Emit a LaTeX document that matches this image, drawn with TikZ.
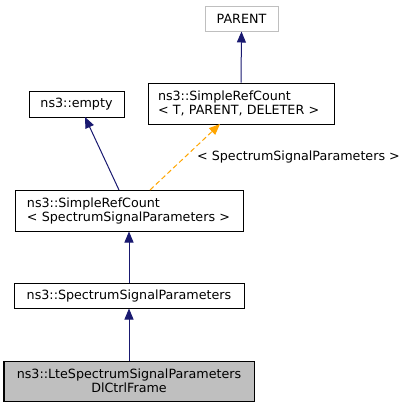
\documentclass[tikz,border=0pt]{standalone}
\usepackage{fontspec}
\setmainfont{DejaVu Sans}
\usetikzlibrary{arrows.meta}
\definecolor{edgeblue}{HTML}{191970}
\definecolor{edgeorange}{HTML}{FFA500}
\definecolor{boxgray}{HTML}{BFBFBF}
\begin{document}
\begin{tikzpicture}[x=1pt,y=-1pt,
  every node/.style={font=\fontsize{12.7}{14}\selectfont},
  cls/.style={draw=black, line width=1pt, inner sep=0pt, fill=white},
  inh/.style={draw=edgeblue, line width=1pt, -{Triangle[length=11pt,width=9pt]}},
  tmpl/.style={draw=edgeorange, line width=1pt, dash pattern=on 5pt off 3pt, -{Triangle[length=11pt,width=9pt]}}]
\useasboundingbox (0,0) rectangle (408,408);
\node[cls, draw=boxgray, minimum width=73pt, minimum height=25pt] (parent) at (241.5,18.5) {PARENT};
\node[cls, minimum width=186pt, minimum height=41pt, text width=166pt, align=left] (srct) at (241,103.5) {ns3::SimpleRefCount\\< T, PARENT, DELETER >};
\node[cls, minimum width=95pt, minimum height=26pt] (empty) at (76.5,104) {ns3::empty};
\node[cls, minimum width=228pt, minimum height=41pt, text width=204pt, align=left] (srcs) at (129,210.5) {ns3::SimpleRefCount\\< SpectrumSignalParameters >};
\node[cls, minimum width=230pt, minimum height=25pt] (ssp) at (129,295.5) {ns3::SpectrumSignalParameters};
\node[cls, fill=boxgray, minimum width=250pt, minimum height=40pt, text width=240pt, align=center] (lte) at (129,381) {ns3::LteSpectrumSignalParameters\\DlCtrlFrame};
\coordinate (a1) at (119,190);
\coordinate (a2) at (85,117);
\coordinate (d1) at (150,190);
\coordinate (d2) at (220,124);
\draw[inh] (srct.north) -- (parent.south);
\draw[inh] (a1) -- (a2);
\draw[tmpl] (d1) -- (d2);
\node[anchor=west, inner sep=0pt] (lbl) at (197,157) {< SpectrumSignalParameters >};
\draw[inh] (ssp.north) -- (srcs.south);
\draw[inh] (lte.north) -- (ssp.south);
\end{tikzpicture}
\end{document}
